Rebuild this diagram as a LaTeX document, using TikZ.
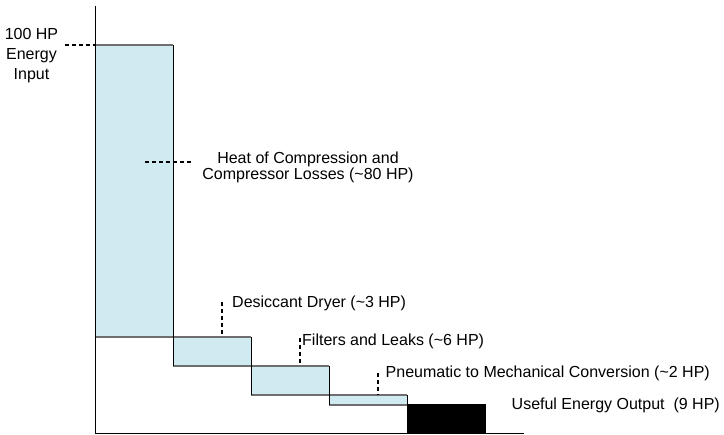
\documentclass[tikz,border=0pt]{standalone}
\usepackage{fontspec}
\setmainfont{Liberation Sans}
\definecolor{lossblue}{RGB}{207,234,240}
\definecolor{edgegray}{RGB}{110,110,110}
\begin{document}
\begin{tikzpicture}[x=1pt,y=-1pt,
  axisline/.style={draw=black,line width=1pt},
  lossbox/.style={fill=lossblue},
  hedge/.style={draw=edgegray,line width=1.6pt},
  vedge/.style={draw=black,line width=1pt},
  outbox/.style={fill=black,draw=black,line width=1pt},
  leader/.style={draw=black,line width=2.8pt,dash pattern=on 4pt off 3pt},
  lbl/.style={inner sep=0pt,font=\fontsize{16}{16}\selectfont}]
\useasboundingbox (0,0) rectangle (724,435);
% boxes
\fill[lossbox] (95,45) rectangle (173,337);
\fill[lossbox] (173,337) rectangle (251,366);
\fill[lossbox] (251,366) rectangle (329,395);
\fill[lossbox] (329,395) rectangle (407,405);
% horizontal edges
\draw[hedge] (95,45) -- (173,45);
\draw[hedge] (95,337) -- (251,337);
\draw[hedge] (173,366) -- (329,366);
\draw[hedge] (251,395) -- (407,395);
\draw[hedge] (329,405) -- (407,405);
% vertical edges
\draw[vedge] (173,45) -- (173,366);
\draw[vedge] (251,337) -- (251,395);
\draw[vedge] (329,366) -- (329,405);
\draw[vedge] (407,395) -- (407,405);
\draw[outbox] (407,405) rectangle (485,434);
% axes
\coordinate (ytop) at (95,6);
\coordinate (orig) at (95,434);
\coordinate (xend) at (524,434);
\draw[axisline] (ytop) -- (orig) -- (xend);
% labels
\node[lbl,anchor=north,align=center,font=\fontsize{16}{20.3}\selectfont] (inp) at (31.5,27.8) {100 HP\\Energy\\Input};
\node[lbl,anchor=north,align=center] (heat) at (308,151.6) {Heat of Compression and\\Compressor Losses (\textasciitilde80 HP)};
\node[lbl,anchor=base west] (dry) at (232,308) {Desiccant Dryer (\textasciitilde3 HP)};
\node[lbl,anchor=base west] (filt) at (302,345.5) {Filters and Leaks (\textasciitilde6 HP)};
\node[lbl,anchor=base west] (pneu) at (385.5,377.5) {Pneumatic to Mechanical Conversion (\textasciitilde2 HP)};
\node[lbl,anchor=base west] (useful) at (511.5,410) {Useful Energy Output\ \ (9 HP)};
% leaders
\coordinate (inA) at (65,45);  \coordinate (inB) at (95,45);
\coordinate (heA) at (145,162); \coordinate (heB) at (193,162);
\coordinate (drA) at (222,302); \coordinate (drB) at (222,335);
\coordinate (fiA) at (300,338); \coordinate (fiB) at (300,363);
\coordinate (pnA) at (378,373); \coordinate (pnB) at (378,395);
\draw[leader] (inA) -- (inB);
\draw[leader] (heA) -- (heB);
\draw[leader] (drA) -- (drB);
\draw[leader] (fiA) -- (fiB);
\draw[leader] (pnA) -- (pnB);
\end{tikzpicture}
\end{document}
